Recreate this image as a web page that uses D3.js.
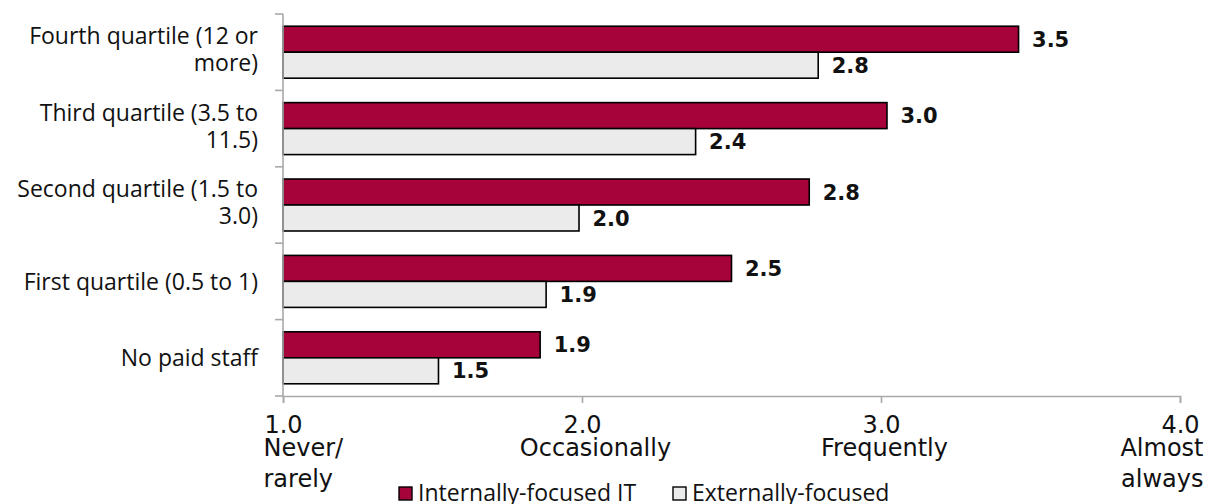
<!DOCTYPE html>
<html>
<head>
<meta charset="utf-8">
<script src="https://cdn.jsdelivr.net/npm/d3@7"></script>
<style>
  html, body { margin: 0; padding: 0; background: #fff; }
  svg { display: block; font-family: "Open Sans", Roboto, sans-serif; }
</style>
</head>
<body>
<svg id="chart" width="1207" height="504"></svg>
<script>
// Groups by paid IT staff, top to bottom (each entry is the lines of its label)
const categoryLines = [
  ["Fourth quartile (12 or", "more)"],
  ["Third quartile (3.5 to", "11.5)"],
  ["Second quartile (1.5 to", "3.0)"],
  ["First quartile (0.5 to 1)"],
  ["No paid staff"]
];
const categories = categoryLines.map(l => l.join(" "));

const seriesNames = ["Internally-focused IT", "Externally-focused"];
const internalValues = [3.46, 3.02, 2.76, 2.50, 1.86];
const externalValues = [2.79, 2.38, 1.99, 1.88, 1.52];

// Frequency scale ticks and their descriptions
const tickValues = [1, 2, 3, 4];
const tickDescriptions = [["Never/", "rarely"], ["Occasionally"], ["Frequently"], ["Almost", "always"]];

const fills = ["#a5033a", "#ecebeb"];
const textColor = "#111";
const axisColor = "#a9a9a9";
const wideFont = "'DejaVu Sans', sans-serif";

const svg = d3.select("#chart");
const plot = { left: 283, right: 1180, top: 14, bottom: 396 };

const x = d3.scaleLinear().domain([1, 4]).range([plot.left, plot.right]);
const y = d3.scaleBand().domain(categories).range([plot.top, plot.bottom]).padding(0);
const ySub = d3.scaleBand().domain(seriesNames).range([0, y.bandwidth()])
  .paddingInner(0).paddingOuter(0.47);

const rows = categories.map((c, i) => ({
  category: c,
  values: [internalValues[i], externalValues[i]]
}));

// Bars
const groups = svg.append("g").selectAll("g")
  .data(rows)
  .join("g")
  .attr("transform", d => `translate(0,${y(d.category)})`);

groups.selectAll("rect")
  .data(d => d.values.map((v, k) => ({ series: seriesNames[k], value: v, k })))
  .join("rect")
  .attr("x", x(1))
  .attr("y", d => ySub(d.series))
  .attr("width", d => x(d.value) - x(1))
  .attr("height", ySub.bandwidth())
  .attr("fill", d => fills[d.k])
  .attr("stroke", "#000")
  .attr("stroke-width", 1.6);

// Value labels
groups.selectAll("text.value")
  .data(d => d.values.map((v, k) => ({ series: seriesNames[k], value: v })))
  .join("text")
  .attr("class", "value")
  .attr("x", d => x(d.value) + 13.5)
  .attr("y", d => ySub(d.series) + ySub.bandwidth() / 2)
  .attr("dy", "0.36em")
  .attr("font-family", wideFont)
  .attr("font-size", 21)
  .attr("font-weight", 700)
  .attr("fill", textColor)
  .text(d => d.value.toFixed(1));

// Vertical axis with ticks at category boundaries
const yAxis = svg.append("g");
yAxis.append("line")
  .attr("x1", plot.left).attr("x2", plot.left)
  .attr("y1", plot.top).attr("y2", plot.bottom)
  .attr("stroke", axisColor).attr("stroke-width", 1.6);
const boundaries = categories.map(c => y(c)).concat([plot.bottom]);
yAxis.selectAll("line.tick")
  .data(boundaries)
  .join("line")
  .attr("class", "tick")
  .attr("x1", plot.left - 8).attr("x2", plot.left)
  .attr("y1", d => d).attr("y2", d => d)
  .attr("stroke", axisColor).attr("stroke-width", 1.6);

// Category labels
const catLabels = svg.append("g").selectAll("text")
  .data(categoryLines.map((lines, i) => ({ lines, category: categories[i] })))
  .join("text")
  .attr("text-anchor", "end")
  .attr("font-size", 23)
  .attr("fill", textColor);
catLabels.each(function(d) {
  const n = d.lines.length;
  const cy = y(d.category) + y.bandwidth() / 2 - (n > 1 ? 2.5 : 0);
  d3.select(this).selectAll("tspan")
    .data(d.lines)
    .join("tspan")
    .attr("x", plot.left - 25)
    .attr("y", (t, i) => cy + (i - (n - 1) / 2) * 27)
    .attr("dy", "0.36em")
    .text(t => t);
});

// Horizontal axis: number plus its frequency description in one label
const fmt = d3.format(".1f");
const xAxis = svg.append("g")
  .attr("transform", `translate(0,${plot.bottom})`)
  .call(d3.axisBottom(x).tickValues(tickValues).tickFormat(fmt).tickSize(7));
xAxis.select(".domain").attr("stroke", axisColor).attr("stroke-width", 1.6);
xAxis.selectAll(".tick line").attr("stroke", axisColor).attr("stroke-width", 1.6);

const descAnchor = ["start", "middle", "middle", "end"];
const descShift = [-20, 13, 3, 23];
xAxis.selectAll(".tick text")
  .attr("font-size", 24)
  .attr("font-family", wideFont)
  .attr("fill", textColor)
  .attr("dy", null)
  .each(function(v, i) {
    const t = d3.select(this).text(null).attr("y", null);
    t.append("tspan")
      .attr("x", 0).attr("y", 37)
      .attr("text-anchor", "middle")
      .text(fmt(v));
    tickDescriptions[i].forEach((line, j) => {
      t.append("tspan")
        .attr("x", descShift[i])
        .attr("y", 60 + j * 31)
        .attr("text-anchor", descAnchor[i])
        .text(line);
    });
  });

// Legend
const legend = svg.append("g").attr("transform", "translate(399,487)");
const legendOffsets = [0, 274];
const items = legend.selectAll("g")
  .data(seriesNames)
  .join("g")
  .attr("transform", (d, i) => `translate(${legendOffsets[i]},0)`);
items.append("rect")
  .attr("width", 13).attr("height", 13)
  .attr("fill", (d, i) => fills[i])
  .attr("stroke", "#000").attr("stroke-width", 1.4);
items.append("text")
  .attr("x", 19).attr("y", 14)
  .attr("font-size", 23)
  .attr("fill", textColor)
  .text(d => d);
</script>
</body>
</html>
